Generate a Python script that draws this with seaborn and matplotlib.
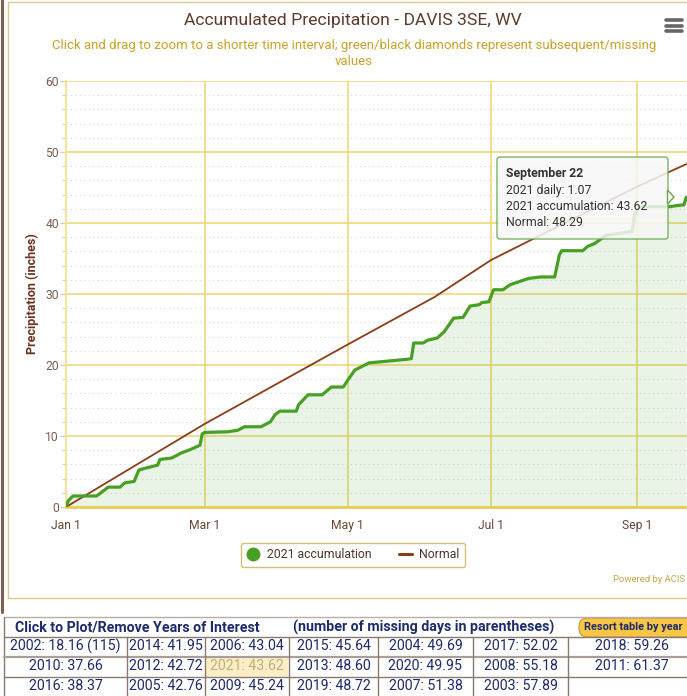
import matplotlib
matplotlib.use("Agg")
import matplotlib.pyplot as plt
import matplotlib.ticker as mticker
from matplotlib.lines import Line2D
from matplotlib.patches import FancyBboxPatch, Rectangle, Polygon
import pandas as pd
import seaborn as sns

# 2021 accumulation (inches)
acc_dates = ["2021-01-01", "2021-01-02", "2021-01-04", "2021-01-14", "2021-01-19", "2021-01-24",
             "2021-01-26", "2021-01-30", "2021-02-01", "2021-02-03", "2021-02-09", "2021-02-10",
             "2021-02-15", "2021-02-19", "2021-02-23", "2021-02-27", "2021-02-28", "2021-03-01",
             "2021-03-11", "2021-03-15", "2021-03-18", "2021-03-25", "2021-03-29", "2021-03-31",
             "2021-04-02", "2021-04-09", "2021-04-10", "2021-04-14", "2021-04-20", "2021-04-24",
             "2021-04-29", "2021-05-01", "2021-05-04", "2021-05-10", "2021-05-26", "2021-05-28",
             "2021-05-29", "2021-06-02", "2021-06-04", "2021-06-08", "2021-06-11", "2021-06-15",
             "2021-06-19", "2021-06-22", "2021-06-26", "2021-06-27", "2021-06-30", "2021-07-02",
             "2021-07-06", "2021-07-09", "2021-07-17", "2021-07-22", "2021-07-28", "2021-07-30",
             "2021-07-31", "2021-08-09", "2021-08-11", "2021-08-14", "2021-08-19", "2021-08-30",
             "2021-08-31", "2021-09-02", "2021-09-15", "2021-09-19", "2021-09-21", "2021-09-22"]
acc_values = [0.0, 0.9, 1.55, 1.55, 2.8, 2.8,
              3.4, 3.6, 5.2, 5.4, 5.9, 6.7,
              6.9, 7.6, 8.1, 8.7, 10.3, 10.5,
              10.6, 10.8, 11.3, 11.3, 12.0, 13.0,
              13.5, 13.5, 14.4, 15.8, 15.8, 16.9,
              16.9, 17.9, 19.3, 20.3, 20.8, 20.9,
              23.1, 23.1, 23.5, 23.8, 24.7, 26.6,
              26.7, 28.3, 28.5, 28.8, 28.9, 30.6,
              30.6, 31.3, 32.2, 32.4, 32.4, 35.5,
              36.1, 36.1, 36.7, 37.1, 38.3, 38.8,
              41.1, 42.3, 42.3, 42.5, 42.55, 43.62]

# normal accumulation
normal_dates = ["2021-01-01", "2021-03-01", "2021-05-01", "2021-06-07", "2021-07-01",
                "2021-09-01", "2021-09-22"]
normal_values = [0.0, 11.7, 22.9, 29.6, 34.8, 45.1, 48.29]

month_ticks = ["2021-01-01", "2021-03-01", "2021-05-01", "2021-07-01", "2021-09-01"]
month_labels = ["Jan 1", "Mar 1", "May 1", "Jul 1", "Sep 1"]
y_ticks = [0, 10, 20, 30, 40, 50, 60]

# years table, column by column
table_cells = ["2002: 18.16 (115)", "2010: 37.66", "2016: 38.37",
               "2014: 41.95", "2012: 42.72", "2005: 42.76",
               "2006: 43.04", "2021: 43.62", "2009: 45.24",
               "2015: 45.64", "2013: 48.60", "2019: 48.72",
               "2004: 49.69", "2020: 49.95", "2007: 51.38",
               "2017: 52.02", "2008: 55.18", "2003: 57.89",
               "2018: 59.26", "2011: 61.37", ""]
highlight_cell = "2021: 43.62"

W, H = 687, 696
GREEN = "#47a023"
BROWN = "#8a3d16"
GOLD = "#eed46c"
TXT_BROWN = "#6a4434"


def fx(x):
    return x / W


def fy(y):
    return 1 - y / H


sns.set_theme(style="white")
plt.rcParams['font.family'] = ['Roboto', 'DejaVu Sans']

fig = plt.figure(figsize=(W / 100, H / 100), dpi=100)
ax = fig.add_axes([fx(66), fy(507), (W - 66) / W, (507 - 81) / H])

acc = pd.DataFrame({"date": pd.to_datetime(acc_dates), "value": acc_values})
normal = pd.DataFrame({"date": pd.to_datetime(normal_dates), "value": normal_values})

ax.fill_between(acc["date"], acc["value"], color=GREEN, alpha=0.11, linewidth=0, zorder=1)
sns.lineplot(data=normal, x="date", y="value", ax=ax, color=BROWN, linewidth=1.3, zorder=3)
sns.lineplot(data=acc, x="date", y="value", ax=ax, color=GREEN, linewidth=2.3, zorder=4)

ax.set_xlim(pd.Timestamp("2021-01-01"), pd.Timestamp("2021-09-22 08:00"))
ax.set_ylim(0, 60)
ax.set_xticks(pd.to_datetime(month_ticks))
ax.set_xticklabels(month_labels)
ax.set_yticks(y_ticks)
ax.yaxis.set_minor_locator(mticker.MultipleLocator(2))
ax.set_xlabel("")
ax.set_ylabel("Precipitation (inches)", fontsize=9, fontweight="bold", color="#6b3320")
ax.yaxis.set_label_coords(-0.043, 0.5)

ax.grid(which="major", color=GOLD, linewidth=1.1, zorder=0)
ax.grid(which="minor", axis="y", color="#d8d8d8", linestyle=(0, (1, 3)), linewidth=0.8)
ax.set_axisbelow(True)
ax.tick_params(axis="x", which="major", length=8, width=1, color="#ccd6eb", pad=0.5,
               labelsize=8.7, labelcolor=TXT_BROWN)
ax.tick_params(axis="y", which="major", length=4, width=1, color="#cccccc", pad=1,
               labelsize=8.7, labelcolor="#7a5e52", left=True)
ax.tick_params(axis="y", which="minor", length=3, width=0.8, color="#cccccc", left=True)
for s in ["top", "right"]:
    ax.spines[s].set_visible(False)
ax.spines["left"].set_color("#f2e49a")
ax.spines["left"].set_linewidth(1.5)
ax.spines["bottom"].set_color("#e9cc55")
ax.spines["bottom"].set_linewidth(2)

# title and subtitle
fig.text(fx(353), fy(20), "Accumulated Precipitation - DAVIS 3SE, WV", ha="center", va="center",
         fontsize=12.6, color="#5e3a2d")
fig.text(fx(354), fy(45), "Click and drag to zoom to a shorter time interval; green/black diamonds "
         "represent subsequent/missing", ha="center", va="center", fontsize=9.55, color="#c9a22a")
fig.text(fx(354), fy(61.5), "values", ha="center", va="center", fontsize=9.55, color="#c9a22a")

# menu icon
for yy in [20, 25.5, 31]:
    fig.add_artist(Line2D([fx(666), fx(682)], [fy(yy), fy(yy)], color="#666666", lw=2.6,
                          solid_capstyle="round"))

# legend
handles = [Line2D([], [], marker="o", color="none", markerfacecolor=GREEN, markeredgecolor=GREEN,
                  markersize=9),
           Line2D([], [], color=BROWN, lw=2.2)]
leg = fig.legend(handles, ["2021 accumulation", "Normal"], loc="center",
                 bbox_to_anchor=(fx(353), fy(555)), ncol=2, frameon=True, fancybox=True,
                 fontsize=8.8, handlelength=1.1, columnspacing=2.2, handletextpad=0.6,
                 borderpad=0.45)
leg.get_frame().set_edgecolor("#cfae5a")
leg.get_frame().set_linewidth(1.0)
leg.get_frame().set_facecolor("white")
for t in leg.get_texts():
    t.set_color("#4e3428")

fig.text(fx(685), fy(580), "Powered by ACIS", ha="right", va="center", fontsize=6.8,
         color="#c9a64e")

# tooltip
tip = FancyBboxPatch((fx(497), fy(239)), fx(668) - fx(497), fy(157) - fy(239),
                     boxstyle="round,pad=0,rounding_size=0.004", transform=fig.transFigure,
                     facecolor="#f7f7f7", edgecolor="#67a84a", linewidth=1.0, alpha=0.85,
                     zorder=5)
fig.add_artist(tip)
fig.add_artist(Polygon([(fx(667.5), fy(190)), (fx(674), fy(197)), (fx(667.5), fy(204))],
                       closed=True, transform=fig.transFigure, facecolor="#f7f7f7",
                       edgecolor="#67a84a", linewidth=1.0, zorder=5))
fig.text(fx(506), fy(174), "September 22", fontsize=8.8, fontweight="bold", color="#333333",
         va="center", zorder=6)
for yy, s in zip([191, 207, 223], ["2021 daily: 1.07", "2021 accumulation: 43.62", "Normal: 48.29"]):
    fig.text(fx(506), fy(yy), s, fontsize=8.8, color="#333333", va="center", zorder=6)

# chart panel frame
fig.add_artist(Line2D([fx(2), fx(2)], [fy(0), fy(612)], color="#7d6050", lw=2.2))
fig.add_artist(Line2D([fx(7.5), fx(7.5)], [fy(2), fy(598)], color="#dcc98e", lw=1))
fig.add_artist(Line2D([fx(7.5), fx(W)], [fy(2), fy(2)], color="#dcc98e", lw=1))
fig.add_artist(Line2D([fx(7.5), fx(W)], [fy(598), fy(598)], color="#dcc98e", lw=1))

# years table
NAVY = "#1d2a6b"
col_edges = [4, 127, 205, 289, 378, 473, 568, 700]
row_edges = [637, 657, 677, 697]
fig.add_artist(Line2D([fx(4), fx(W)], [fy(617), fy(617)], color="#b8aea4", lw=1))
fig.add_artist(Line2D([fx(4), fx(4)], [fy(617), fy(H)], color="#8a7a70", lw=1))
fig.text(fx(15), fy(627), "Click to Plot/Remove Years of Interest", fontsize=10.2,
         fontweight="bold", color=NAVY, va="center")
fig.text(fx(293), fy(627), "(number of missing days in parentheses)", fontsize=10.2,
         fontweight="bold", color=NAVY, va="center")
btn = FancyBboxPatch((fx(579), fy(637)), fx(720) - fx(579), fy(618) - fy(637),
                     boxstyle="round,pad=0,rounding_size=0.012", transform=fig.transFigure,
                     facecolor="#f7c646", edgecolor="#c79a33", linewidth=0.8)
fig.add_artist(btn)
fig.text(fx(584), fy(627.5), "Resort table by year", fontsize=7.9, fontweight="bold", color=NAVY,
         va="center")

for j, yy in enumerate(row_edges[:-1]):
    fig.add_artist(Line2D([fx(4), fx(W)], [fy(yy), fy(yy)],
                          color="#a79f98" if j == 1 else "#8a7a70", lw=1.6 if j == 1 else 1))
for c in range(7):
    x0, x1 = col_edges[c], col_edges[c + 1]
    for r in range(3):
        label = table_cells[c * 3 + r]
        y0, y1 = row_edges[r], row_edges[r + 1]
        tcolor = NAVY
        if label == highlight_cell:
            fig.add_artist(Rectangle((fx(x0 + 1), fy(y1)), fx(x1 - 1) - fx(x0 + 1), fy(y0 + 1) - fy(y1),
                                     transform=fig.transFigure, facecolor="#fcefc8",
                                     edgecolor="none"))
            tcolor = "#c6ad78"
        if label:
            cx = (x0 + x1) / 2 if c < 6 else 632
            fig.text(fx(cx), fy((y0 + y1) / 2 - 0.5), label, ha="center", va="center",
                     fontsize=10.2, color=tcolor)
    if c > 0:
        fig.add_artist(Line2D([fx(x0), fx(x0)], [fy(637), fy(H)], color="#8a7a70", lw=1))

fig.savefig("out.png", dpi=100)
